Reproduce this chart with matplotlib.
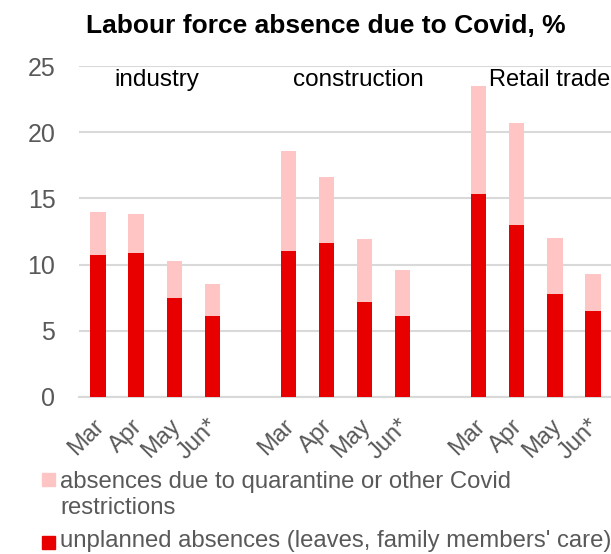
import numpy as np
import matplotlib
matplotlib.use("Agg")
import matplotlib.pyplot as plt
import matplotlib.transforms as mtransforms
from matplotlib.patches import Rectangle

plt.rcParams['font.family'] = ['Liberation Sans', 'DejaVu Sans']

# data
sectors = ["industry", "construction", "Retail trade"]
months = ["Mar", "Apr", "May", "Jun*"]
unplanned = [10.7, 10.9, 7.5, 6.1,
             11.0, 11.6, 7.2, 6.1,
             15.3, 13.0, 7.8, 6.5]
quarantine = [3.3, 2.9, 2.8, 2.4,
              7.6, 5.0, 4.7, 3.5,
              8.2, 7.7, 4.2, 2.8]
label_q = ["absences due to quarantine or other Covid", "restrictions"]
label_u = "unplanned absences (leaves, family members' care)"

red = '#E80000'
pink = '#FFC5C5'
grey = '#595959'
grid = '#D9D9D9'

W, H = 611, 554
fig = plt.figure(figsize=(W / 100, H / 100), dpi=100)
ax = fig.add_axes([79 / W, 1 - 397 / H, (612 - 79) / W, (397 - 66) / H])

# 4 bars per sector, one empty slot between sectors
xpos = [g * 5 + i for g in range(len(sectors)) for i in range(len(months))]
ax.bar(xpos, unplanned, width=0.4, color=red, zorder=3)
ax.bar(xpos, quarantine, width=0.4, bottom=unplanned, color=pink, zorder=3)

ax.set_xlim(-0.5, 13.5)
ax.set_ylim(0, 25)
ax.set_yticks(range(0, 26, 5))
ax.yaxis.grid(True, color=grid, linewidth=1.5, zorder=0)
for s in ['top', 'right', 'left']:
    ax.spines[s].set_visible(False)
ax.spines['bottom'].set_color(grid)
ax.spines['bottom'].set_linewidth(1.5)
ax.tick_params(axis='y', length=0, pad=17, labelsize=18, labelcolor=grey)
ax.tick_params(axis='x', length=0, pad=13)

ax.set_xticks(xpos)
ax.set_xticklabels(months * len(sectors), rotation=45, ha='right',
                   rotation_mode='anchor', fontsize=17, color=grey)
shift = mtransforms.ScaledTranslation(-5 / 100, 0, fig.dpi_scale_trans)
for lab in ax.get_xticklabels():
    lab.set_transform(lab.get_transform() + shift)

# sector names inside the plot
ax.text(1.55, 23.5, sectors[0], ha='center', va='baseline', fontsize=17.5, color='black')
ax.text(6.85, 23.5, sectors[1], ha='center', va='baseline', fontsize=17.5, color='black')
ax.text(13.45, 23.5, sectors[2], ha='right', va='baseline', fontsize=17, color='black')

fig.text(326 / W, 1 - 33 / H, "Labour force absence due to Covid, %",
         ha='center', va='baseline', fontsize=19, fontweight='bold')

# legend drawn by hand so the square sits on the first text line
fig.add_artist(Rectangle((42 / W, 1 - 486 / H), 13 / W, 13 / H,
                         transform=fig.transFigure, color=pink))
fig.text(60 / W, 1 - 488 / H, label_q[0], va='baseline', fontsize=17.2, color=grey)
fig.text(60 / W, 1 - 514 / H, label_q[1], va='baseline', fontsize=17.2, color=grey)
fig.add_artist(Rectangle((42 / W, 1 - 549 / H), 13 / W, 13 / H,
                         transform=fig.transFigure, color=red))
fig.text(60 / W, 1 - 547 / H, label_u, va='baseline', fontsize=17.2, color=grey)

fig.savefig("out.png", dpi=100)
